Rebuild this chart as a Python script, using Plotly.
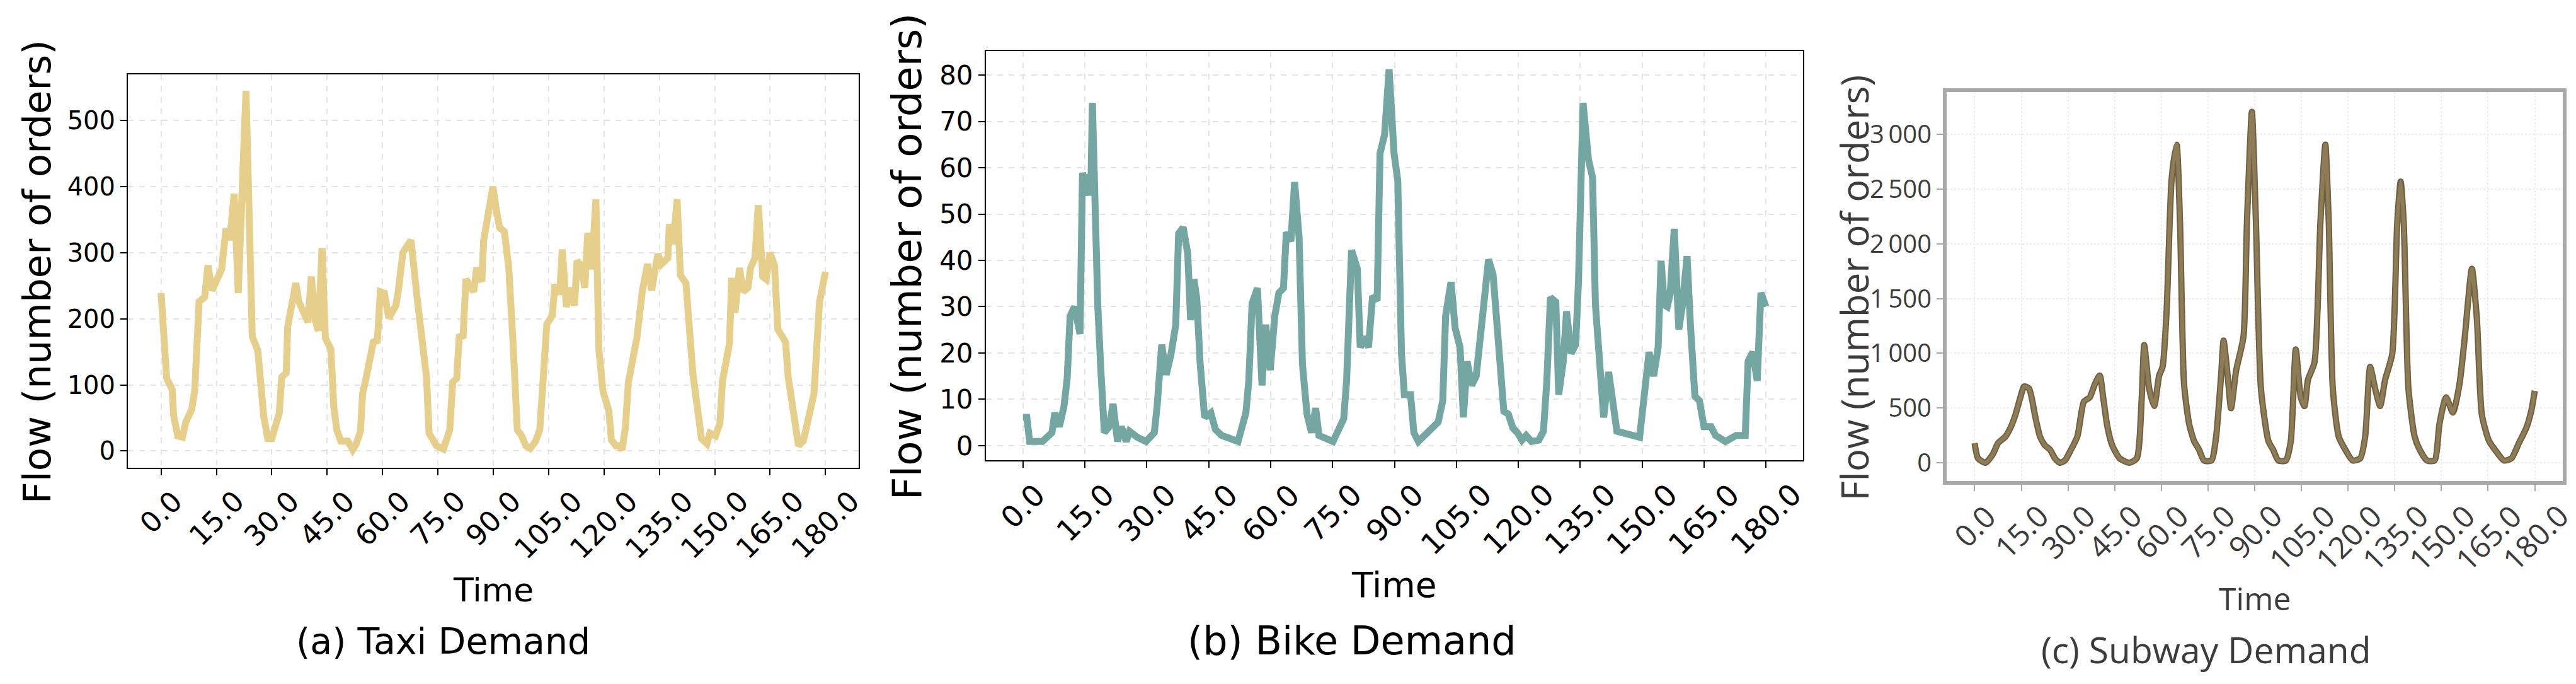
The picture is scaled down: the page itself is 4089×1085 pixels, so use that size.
import plotly.graph_objects as go

W, H = 4089, 1085

# (a) taxi demand
taxi_t = [0, 1.5, 3, 3.4, 4.5, 5.8, 6.7, 8.3, 9.1, 10.3, 11.8, 12.7, 13.8, 15.2, 16.4, 17.5, 18.2, 18.6,
          19.8, 20.9, 23.0, 24.7, 26.2, 27.8, 28.9, 30, 32, 32.7, 33.9, 34.3, 35.4, 36.5, 37.3, 38.4,
          39.8, 40.7, 41.8, 42.6, 43.6, 44.5, 46, 46.8, 47.6, 48.7, 50.6, 51.9, 52.9, 54, 54.6, 55.6,
          56.7, 57.5, 58.6, 59.4, 60.5, 61.7, 63.6, 64.3, 65.5, 67.7, 69.3, 70.8, 71.9, 72.6, 74.6,
          76.5, 78.2, 79, 80.1, 80.8, 81.8, 82.6, 84.7, 85.5, 86.9, 87.4, 88.5, 89.9, 90.8, 91.7, 93,
          94.2, 95.4, 96.5, 97.7, 98.8, 100, 101.5, 102.6, 103.8, 104.5, 106, 106.7, 108, 108.7,
          109.8, 111, 112, 112.7, 113.7, 114.8, 115.6, 116.7, 117.8, 118.6, 119.7, 121.3, 122, 123.2,
          123.9, 124.9, 125.8, 126.6, 128.9, 130.4, 131.8, 132.9, 134.6, 135.6, 137.3, 137.7, 138.8,
          139.8, 140.7, 142.2, 144.1, 145.3, 146.4, 147.9, 148.7, 150.2, 151.4, 152.1, 154, 154.6,
          155.5, 156.7, 157.7, 159, 159.7, 160.9, 161.8, 163, 163.9, 165, 166.2, 167.1, 169.2, 169.9,
          171.2, 172.7, 174, 176.1, 176.9, 177.8, 178.4, 180]
taxi_flow = [239, 110, 93, 53, 23, 21, 44, 63, 91, 226, 233, 281, 243, 258, 275, 332, 332, 319,
             389, 239, 545, 173, 152, 53, 19, 19, 57, 112, 118, 188, 222, 254, 226, 209,
             195, 264, 197, 182, 307, 171, 154, 66, 32, 15, 15, 2, 11, 30, 87, 112,
             150, 165, 167, 241, 239, 201, 220, 243, 300, 319, 235, 159, 112, 27, 8,
             3, 32, 104, 110, 176, 171, 260, 241, 277, 256, 319, 353, 400, 366, 338, 332,
             277, 159, 32, 23, 8, 4, 15, 32, 129, 192, 205, 252, 237, 305,
             218, 247, 220, 288, 281, 247, 330, 275, 381, 154, 91, 61, 17, 8,
             8, 2, 36, 104, 171, 243, 283, 243, 298, 283, 292, 343, 313,
             381, 266, 254, 116, 57, 19, 11, 27, 23, 42, 106, 163, 262,
             209, 277, 241, 247, 277, 292, 372, 264, 260, 300, 281, 184, 165, 112,
             66, 8, 15, 66, 87, 171, 226, 271]

# (b) bike demand
bike_t = [0, 0.9, 1.6, 4.7, 7, 7.7, 8.8, 9.9, 10.7, 11.4, 12.5, 13.8, 14.4, 15.5, 15.9, 16.4, 16.8,
          17.3, 18.1, 18.8, 19.7, 20.9, 21.8, 22.9, 23.8, 25, 25.8, 27.7, 29.8, 31.8, 32.5, 33.6,
          34.7, 35.8, 37, 37.7, 38.8, 39.9, 40.6, 41.4, 42.1, 42.9, 44, 45.5, 46.6, 48.1, 52.1, 54,
          54.7, 55.5, 56.8, 57.9, 58.8, 59.9, 61, 62, 63.1, 63.8, 64.9, 65.8, 66.9, 67.7, 68.8, 69.9,
          70.9, 71.7, 75.1, 77.7, 78.4, 79.6, 81, 81.7, 82.8, 83.7, 84.7, 85.8, 86.5, 87.6, 88.7,
          89.9, 90.8, 91.7, 92.4, 93.9, 94.7, 95.8, 100.6, 101.7, 102.4, 103.7, 104.7, 105.9, 106.7,
          107.6, 108.7, 109.8, 110.9, 112.8, 113.9, 115, 116.5, 117.6, 118.7, 119.8, 120.9, 121.9,
          123.2, 125, 126.1, 126.9, 127.8, 129.1, 129.8, 130.9, 131.7, 132.8, 133.9, 134.6, 135.7,
          137, 138, 138.7, 139.8, 140.7, 141.9, 142.8, 143.9, 149.4, 150.4, 151.7, 152.8, 153.9,
          154.6, 155.4, 156.1, 156.8, 157.8, 158.9, 159.8, 160.9, 161.7, 162.8, 163.9, 165, 166.7,
          167.8, 170.2, 172.8, 175, 175.7, 176.8, 177.9, 178.8, 180]
bike_flow = [6.1, 6.1, 0.9, 0.9, 2.8, 7.1, 4.1, 8.4, 14.6, 28, 30, 24.1, 58.9, 54, 58.6, 54, 74,
             54, 30.4, 17.2, 2.8, 4.1, 9, 0.9, 4.1, 0.9, 3.1, 1.8, 0.9, 2.8, 8.7, 21.8,
             15.3, 19.5, 26.1, 45.8, 47.1, 41.5, 27.1, 35.9, 31.7, 17.9, 6.1, 7.1, 3.5, 2.2, 0.9, 7.1,
             14, 30.7, 34, 13, 26.1, 16.3, 28, 33, 34, 46.1, 44.1, 56.9, 44.8, 17.6, 6.8, 2.8,
             8.1, 2.2, 0.9, 5.8, 14, 42.2, 38.2, 21.2, 23.5, 21.2, 32.3, 31.3, 63.1, 67.1, 81.2,
             63.1, 57.2, 19.9, 11, 11, 2.8, 0.9, 5.1, 9.7, 28.1, 35.3, 25.4, 21.2, 6.1,
             18.2, 13, 15, 25.4, 40.2, 36.9, 23.1, 7.4, 6.8, 3.8, 2.8, 1.2, 2.2,
             0.9, 1.2, 3.1, 13.6, 32, 31, 11, 18.2, 29, 19.9, 21.8, 35.6, 74,
             61.8, 57.9, 30.4, 16.6, 6.1, 15.9, 9.4, 3.1, 1.8, 9, 20.2, 15, 21.2,
             39.9, 30.4, 30, 32.7, 46.8, 25.1, 30.4, 40.9, 26.4, 10.7, 9.7, 4.1, 4.1,
             2.2, 0.9, 2.2, 2.2, 18.2, 20.2, 14, 33, 30]

# (c) subway demand
subway_t = [0, 1.1, 3.5, 5.9, 7.5, 9.9, 11.5, 13.1, 14.7, 15.9, 17.5, 19.5, 21, 22.6, 24.2, 25.8,
            27.4, 29, 30.6, 33, 35.1, 37, 38.6, 40.2, 41.3, 42.6, 44.2, 46.6, 49.7, 52.1, 53.7,
            54.5, 56.1, 57.7, 59.3, 60.4, 61.7, 63.3, 64.9, 66, 67.3, 68.9, 70.5, 72.1, 73.7, 76.1,
            77.6, 79.2, 80, 81.3, 82.4, 84, 86.4, 87.5, 89.1, 90.4, 92, 94.4, 95.9, 97.6, 100,
            101.6, 103.2, 104.8, 106, 107.1, 109.2, 111.1, 112.7, 113.8, 115.1, 117, 119.1, 121.5,
            123.9, 125.5, 127.1, 128.7, 130.3, 131.9, 134.2, 135.8, 136.9, 137.9, 139.4, 141.4, 143,
            145.4, 147.8, 149.4, 151.5, 153.7, 155.8, 157.4, 159.8, 161.4, 163, 165.3, 167.7, 170.1,
            172.5, 174.9, 177.3, 178.9, 180]
subway_flow = [179, 40, 0, 80, 179, 239, 319, 438, 598, 697, 677, 418, 239, 159, 120, 40,
               0, 20, 100, 239, 558, 598, 717, 797, 598, 339, 159, 40, 0, 40, 598,
               1076, 677, 518, 797, 876, 1394, 2590, 2908, 2191, 717, 359, 199, 120, 20, 20,
               239, 797, 1116, 797, 498, 837, 1155, 2191, 3207, 2191, 677, 199, 120, 20, 20,
               199, 1036, 598, 518, 757, 916, 2191, 2908, 2191, 677, 239, 120, 20,
               40, 239, 876, 677, 518, 757, 996, 2191, 2570, 2191, 677, 239, 120,
               20, 20, 359, 598, 458, 717, 1116, 1773, 1315, 438, 199, 100, 20,
               40, 179, 319, 478, 657]

x_tick_vals = [0, 15, 30, 45, 60, 75, 90, 105, 120, 135, 150, 165, 180]
taxi_y_ticks = [0, 100, 200, 300, 400, 500]
bike_y_ticks = [0, 10, 20, 30, 40, 50, 60, 70, 80]
subway_y_ticks = [0, 500, 1000, 1500, 2000, 2500, 3000]


def px_x(v):
    return v / W


def px_y(v):
    return 1 - v / H


# pixel boxes of the three plot areas: left, right, top, bottom
PANELS = [
    dict(t=taxi_t, y=taxi_flow, lines=[('#E5CF8B', 11)], shape='linear',
         box=(195, 1355, 110, 735), yrange=[-25, 570], yticks=taxi_y_ticks,
         font='DejaVu Sans', text_color='black', ytick_size=40, xtick_size=45, xtick_gap=24,
         frame='black', frame_w=2, grid='#e4e4e4', grid_dash='dash',
         ytitle=(50, 424, 61), xtitle=(775, 930, 52), caption=(695, 1011, 57, '(a) Taxi Demand')),
    dict(t=bike_t, y=bike_flow, lines=[('#74A6A2', 11)], shape='linear',
         box=(1557, 2854, 73, 723), yrange=[-3.1, 85.2], yticks=bike_y_ticks,
         font='DejaVu Sans', text_color='black', ytick_size=42, xtick_size=47, xtick_gap=24,
         frame='black', frame_w=2, grid='#e4e4e4', grid_dash='dash',
         ytitle=(1432, 400, 64), xtitle=(2205, 922, 55), caption=(2138, 1010, 62, '(b) Bike Demand')),
    dict(t=subway_t, y=subway_flow, lines=[('#6F6042', 10), ('#8E7C56', 6)], shape='spline',
         box=(3082, 4060, 138, 756), yrange=[-165, 3390], yticks=subway_y_ticks,
         font='Open Sans', text_color='#3c3c3c', ytick_size=40, xtick_size=48, xtick_gap=21,
         frame='#a8a8a8', frame_w=6, grid='#ececec', grid_dash='dot',
         ytitle=(2935, 450, 60), xtitle=(3571, 943, 50), caption=(3494, 1024, 57, '(c) Subway Demand')),
]

fig = go.Figure()
annotations = []

for i, p in enumerate(PANELS, start=1):
    suffix = '' if i == 1 else str(i)
    for color, width in p['lines']:
        fig.add_trace(go.Scatter(
            x=p['t'], y=p['y'], mode='lines',
            line=dict(color=color, width=width, shape=p['shape'], smoothing=0.6),
            xaxis='x' + suffix, yaxis='y' + suffix, showlegend=False, hoverinfo='skip',
        ))
    left, right, top, bottom = p['box']
    common = dict(
        showline=True, mirror=True, linecolor=p['frame'], linewidth=p['frame_w'],
        ticks='outside', ticklen=10, tickwidth=2, tickcolor=p['frame'],
        showgrid=True, gridcolor=p['grid'], griddash=p['grid_dash'], gridwidth=1.5,
        zeroline=False,
    )
    fig.update_layout({
        'xaxis' + suffix: dict(
            domain=[px_x(left), px_x(right)], anchor='y' + suffix, range=[-9, 189],
            tickmode='array', tickvals=x_tick_vals, showticklabels=False, **common),
        'yaxis' + suffix: dict(
            domain=[px_y(bottom), px_y(top)], anchor='x' + suffix, range=p['yrange'],
            tickmode='array', tickvals=p['yticks'],
            ticktext=[f'{v:,}'.replace(',', '\u2009') for v in p['yticks']],
            tickfont=dict(family=p['font'], size=p['ytick_size'], color=p['text_color']),
            **common),
    })

    title_font = dict(family=p['font'], color=p['text_color'])
    # rotated x tick labels, centred under each tick like matplotlib does
    for v in x_tick_vals:
        annotations.append(dict(text=f'{v:.1f}', x=v, xref='x' + suffix,
                                y=px_y(bottom + p['xtick_gap']), yanchor='top', textangle=-45,
                                font=dict(size=p['xtick_size'], **title_font)))
    yx, yy, ys = p['ytitle']
    annotations.append(dict(text='Flow (number of orders)', x=px_x(yx), y=px_y(yy), textangle=-90,
                            font=dict(size=ys, **title_font)))
    tx, ty, ts = p['xtitle']
    annotations.append(dict(text='Time', x=px_x(tx), y=px_y(ty), font=dict(size=ts, **title_font)))
    cx, cy, cs, ctext = p['caption']
    annotations.append(dict(text=ctext, x=px_x(cx), y=px_y(cy), font=dict(size=cs, **title_font)))

for a in annotations:
    a.setdefault('xref', 'paper')
    a.setdefault('yanchor', 'middle')
    a.update(yref='paper', xanchor='center', showarrow=False)

fig.update_layout(
    width=W, height=H,
    margin=dict(l=0, r=0, t=0, b=0),
    paper_bgcolor='white', plot_bgcolor='white',
    annotations=annotations,
)

fig.write_html("out.html")
